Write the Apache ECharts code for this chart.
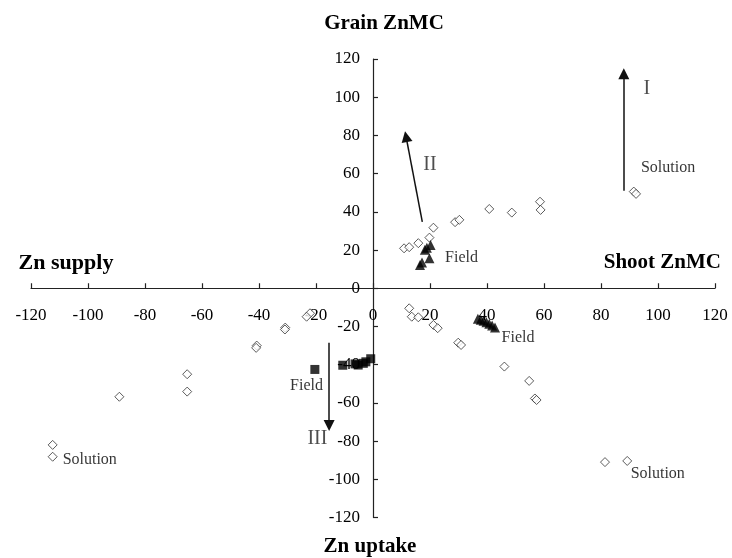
<!DOCTYPE html>
<html><head><meta charset="utf-8">
<script src="https://cdn.jsdelivr.net/npm/echarts@6/dist/echarts.min.js"></script>
<style>html,body{margin:0;padding:0;background:#fff}#c{width:732px;height:558px}</style>
</head><body><div id="c"></div>
<script>
// axis settings
const axisMin = -120, axisMax = 120, axisStep = 20;
const titleTop = 'Grain ZnMC', titleLeft = 'Zn supply', titleRight = 'Shoot ZnMC', titleBottom = 'Zn uptake';

// open diamonds (solution culture)
const solutionQ1 = [[10.9,20.9],[12.7,21.5],[15.9,23.6],[19.8,26.5],[21.2,31.7],[28.8,34.6],[30.3,35.8],[40.8,41.5],[48.7,39.6],[58.6,45.3],[58.8,41],[91.5,50.6],[92.3,49.4]];
const solutionQ4 = [[12.7,-10.5],[13.6,-14.9],[15.9,-15.2],[21.2,-19.2],[22.7,-20.9],[29.9,-28.5],[30.9,-29.7],[46.1,-41],[54.8,-48.5],[56.8,-57.7],[57.4,-58.5],[81.4,-91],[89.2,-90.4]];
const solutionQ3 = [[-22.1,-13.1],[-23.3,-14.9],[-30.8,-20.6],[-30.9,-21.6],[-40.8,-30],[-41,-31.2],[-65.2,-45],[-65.2,-54.1],[-89,-56.8],[-112.4,-82],[-112.4,-88.2]];
// filled triangles (field)
const fieldQ1 = [[16.5,12.2],[17.2,13.5],[19.8,15.7],[18.2,20.1],[18.9,21.2],[20.2,22.7]];
const fieldQ4 = [[36.8,-16],[37.8,-16.5],[38.8,-17],[39.8,-17.8],[40.8,-18.6],[41.8,-19.5],[42.8,-20.5]];
// filled squares (field)
const fieldQ3 = [[-20.4,-42.5],[-10.6,-40.3],[-6.3,-39.6],[-5.2,-40.2],[-3.4,-39.3],[-2.5,-38.5],[-0.8,-36.9]];
// annotation texts [text, x, y]
const notes = [['Solution',94,63.3],['Field',25.3,16.1],['Field',45.1,-25.8],['Field',-29.1,-51.1],['Solution',-108.9,-89.7],['Solution',90.4,-97.1]];
const romans = [['I',96.1,104.3],['II',20,64.6],['III',-19.5,-78.8]];
// arrows [from, to]
const arrows = [[[88,51],[88,112.3]],[[17.3,34.8],[11.6,79.4]],[[-15.4,-28.5],[-15.4,-71.9]]];

const serif = '"Liberation Serif","Times New Roman",serif';
const chart = echarts.init(document.getElementById('c'), null, {renderer:'canvas'});

const W = 732, H = 558;
const gridL = 31, gridR = 17, gridT = 59, gridB = 40.5;
const plotW = W - gridL - gridR, plotH = H - gridT - gridB;

function axisCommon(){
  return {
    type:'value', min:axisMin, max:axisMax, interval:axisStep,
    axisLine:{onZero:false, lineStyle:{color:'#222', width:1.2}},
    axisTick:{show:true, inside:true, length:5, lineStyle:{color:'#222', width:1.2}},
    splitLine:{show:false},
    axisLabel:{color:'#000', fontFamily:serif, fontSize:17}
  };
}
// place each axis line through the zero of the other axis
const xa = axisCommon(); xa.position = 'bottom'; xa.offset = -plotH * (0 - axisMin) / (axisMax - axisMin); xa.axisLabel.margin = 19;
const ya = axisCommon(); ya.position = 'left'; ya.offset = -plotW * (0 - axisMin) / (axisMax - axisMin); ya.axisLabel.margin = 13;

const diamond = {type:'scatter', symbol:'diamond', symbolSize:[9,9],
  itemStyle:{color:'#fff', borderColor:'#333', borderWidth:1}, z:3};

chart.setOption({
  animation:false,
  backgroundColor:'#fff',
  grid:{left:gridL, right:gridR, top:gridT, bottom:gridB, outerBoundsMode:'none'},
  xAxis:xa, yAxis:ya,
  graphic:[
    {type:'text', x:384, y:24, style:{text:titleTop, align:'center', verticalAlign:'middle', fontFamily:serif, fontWeight:'bold', fontSize:21, fill:'#000'}},
    {type:'text', x:66, y:263, style:{text:titleLeft, align:'center', verticalAlign:'middle', fontFamily:serif, fontWeight:'bold', fontSize:22, fill:'#000'}},
    {type:'text', x:721, y:263, style:{text:titleRight, align:'right', verticalAlign:'middle', fontFamily:serif, fontWeight:'bold', fontSize:21, fill:'#000'}},
    {type:'text', x:370, y:547, style:{text:titleBottom, align:'center', verticalAlign:'middle', fontFamily:serif, fontWeight:'bold', fontSize:21, fill:'#000'}}
  ],
  series:[
    Object.assign({}, diamond, {data:solutionQ1}),
    Object.assign({}, diamond, {data:solutionQ4}),
    Object.assign({}, diamond, {data:solutionQ3}),
    {type:'scatter', symbol:'triangle', symbolSize:10, itemStyle:{color:'#000'}, data:fieldQ1.concat(fieldQ4), z:4},
    {type:'scatter', symbol:'rect', symbolSize:9, itemStyle:{color:'#000'}, data:fieldQ3, z:4},
    {type:'scatter', symbolSize:0, silent:true, z:5,
      data:notes.map(n=>({name:n[0], value:[n[1],n[2]]})),
      label:{show:true, position:'right', distance:0, formatter:'{b}', color:'#000', fontFamily:serif, fontSize:16, align:'left', verticalAlign:'middle'},
      markLine:{silent:true, symbol:['none','triangle'], symbolSize:11, animation:false,
        label:{show:false}, lineStyle:{color:'#111', width:1.5, type:'solid'},
        data:arrows.map(a=>[{coord:a[0]},{coord:a[1]}])}
    },
    {type:'scatter', symbolSize:0, silent:true, z:5,
      data:romans.map(n=>({name:n[0], value:[n[1],n[2]]})),
      label:{show:true, position:'inside', formatter:'{b}', color:'#222', fontFamily:serif, fontSize:20, align:'center', verticalAlign:'middle'}
    }
  ]
});
</script></body></html>
